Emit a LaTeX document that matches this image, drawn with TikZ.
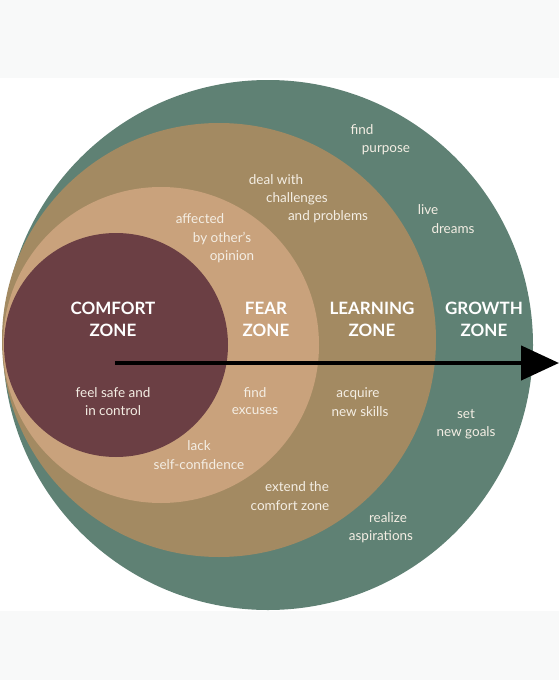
\documentclass[tikz,border=0pt]{standalone}
\usepackage{fontspec}
\setmainfont{Lato}
\usetikzlibrary{arrows.meta}
\definecolor{growthgreen}{HTML}{5F8174}
\definecolor{learningtan}{HTML}{A38A62}
\definecolor{fearbeige}{HTML}{C9A27C}
\definecolor{comfortwine}{HTML}{6B3F44}
\definecolor{bandgray}{HTML}{F8F9F9}
\definecolor{notecream}{HTML}{F4EEE4}
\begin{document}
\begin{tikzpicture}[x=1pt,y=-1pt,
    zone/.style={text=white,font=\fontsize{17}{22}\selectfont\bfseries,align=center},
    note/.style={text=notecream,font=\fontsize{13.5}{18.5}\selectfont,inner sep=0pt}]
            \useasboundingbox (0,0) rectangle (559,680);
            \fill[white] (0,0) rectangle (559,680);
            \fill[bandgray] (0,0) rectangle (559,78);
            \fill[bandgray] (0,611) rectangle (559,680);

            % the four zones
            \fill[growthgreen] (268,345) circle[radius=265];
            \fill[learningtan] (219,340) circle[radius=217];
            \fill[fearbeige] (161,345) circle[radius=158];
            \fill[comfortwine] (116,345) circle[radius=112];

            \node[zone] (comfort) at (113,319) {COMFORT\\ZONE};
            \node[zone] (fear) at (266,319) {FEAR\\ZONE};
            \node[zone] (learning) at (372,319) {LEARNING\\ZONE};
            \node[zone] (growth) at (484,319) {GROWTH\\ZONE};

            \node[note] (safe1) at (113,393) {feel safe and};
            \node[note] (safe2) at (113,411) {in control};

            \node[note] (affected1) at (200,219) {affected};
            \node[note] (affected2) at (222,238) {by other's};
            \node[note] (affected3) at (232,257) {opinion};
            \node[note] (excuses1) at (255,393) {find};
            \node[note] (excuses2) at (255,411) {excuses};
            \node[note] (lack1) at (199,446) {lack};
            \node[note] (lack2) at (199,465) {self-confidence};

            \node[note] (deal1) at (276,180) {deal with};
            \node[note] (deal2) at (297,199) {challenges};
            \node[note] (deal3) at (328,217) {and problems};
            \node[note] (skills1) at (358,394) {acquire};
            \node[note] (skills2) at (360,412) {new skills};
            \node[note] (extend1) at (297,487) {extend the};
            \node[note] (extend2) at (290,506) {comfort zone};

            \node[note] (purpose1) at (362,130) {find};
            \node[note] (purpose2) at (386,150) {purpose};
            \node[note] (dreams1) at (428,210) {live};
            \node[note] (dreams2) at (453,229) {dreams};
            \node[note] (goals1) at (466,414) {set};
            \node[note] (goals2) at (466,433) {new goals};
            \node[note] (realize1) at (388,518) {realize};
            \node[note] (realize2) at (381,537) {aspirations};

            \coordinate (start) at (115,363);
            \coordinate (tip) at (559,363);
            \draw[line width=4.5pt,-{Triangle[length=38pt,width=34pt]}] (start) -- (tip);
        \end{tikzpicture}
\end{document}
